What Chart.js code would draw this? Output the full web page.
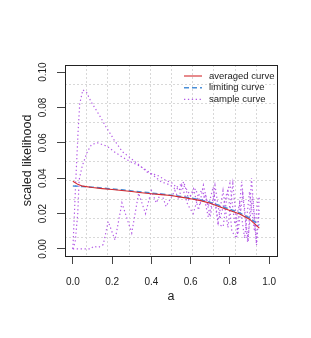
<!DOCTYPE html>
<html>
<head>
<meta charset="utf-8">
<script src="https://cdn.jsdelivr.net/npm/chart.js@4/dist/chart.umd.min.js"></script>
<style>
  html, body { margin: 0; padding: 0; background: #fff; }
  canvas { display: block; }
</style>
</head>
<body>
<canvas id="likChart" width="311" height="338"></canvas>
<script>
// tick labels
const xTicks = [0, 0.2, 0.4, 0.6, 0.8, 1.0];
const yTicks = [0, 0.02, 0.04, 0.06, 0.08, 0.10];

// averaged curve
const avgX = [0, 0.025, 0.05, 0.1, 0.15, 0.2, 0.25, 0.3, 0.35, 0.4, 0.45, 0.5, 0.55, 0.6, 0.65, 0.7, 0.75, 0.8, 0.85, 0.9, 0.95];
const avgY = [0.0383, 0.0365, 0.0355, 0.0347, 0.0341, 0.0336, 0.0330, 0.0325, 0.0318, 0.0312, 0.0307, 0.0302, 0.0293, 0.0284, 0.0273, 0.0258, 0.0237, 0.0217, 0.0198, 0.0168, 0.0118];

// limiting curve
const limX = [0, 0.05, 0.1, 0.15, 0.2, 0.25, 0.3, 0.35, 0.4, 0.45, 0.5, 0.55, 0.6, 0.65, 0.7, 0.75, 0.8, 0.85, 0.9, 0.95];
const limY = [0.0356, 0.0353, 0.0349, 0.0344, 0.0339, 0.0334, 0.0328, 0.0322, 0.0316, 0.0310, 0.0304, 0.0297, 0.0288, 0.0277, 0.0263, 0.0245, 0.0224, 0.0203, 0.0175, 0.0135];

// sample curves
const s1X = [0, 0.008, 0.015, 0.027, 0.035, 0.051, 0.07, 0.092, 0.134, 0.168, 0.21, 0.252, 0.295, 0.337, 0.385, 0.427, 0.47, 0.51, 0.54, 0.565, 0.59, 0.615, 0.64, 0.665, 0.69, 0.715, 0.74, 0.765, 0.79, 0.815, 0.84, 0.865, 0.89, 0.915, 0.935, 0.95];
const s1Y = [0, 0.020, 0.039, 0.067, 0.082, 0.090, 0.0885, 0.0834, 0.0758, 0.0692, 0.0617, 0.055, 0.0513, 0.0475, 0.0428, 0.0419, 0.039, 0.037, 0.033, 0.038, 0.028, 0.034, 0.022, 0.036, 0.024, 0.035, 0.015, 0.033, 0.012, 0.037, 0.008, 0.031, 0.004, 0.030, 0.003, 0.022];

const s2X = [0, 0.012, 0.025, 0.032, 0.048, 0.074, 0.095, 0.125, 0.176, 0.21, 0.252, 0.303, 0.346, 0.4, 0.45, 0.495, 0.52, 0.546, 0.571, 0.6, 0.625, 0.65, 0.675, 0.7, 0.724, 0.75, 0.775, 0.8, 0.825, 0.85, 0.875, 0.9, 0.925, 0.944];
const s2Y = [0, 0.004, 0.020, 0.039, 0.047, 0.055, 0.059, 0.060, 0.058, 0.055, 0.0519, 0.0488, 0.0466, 0.0425, 0.038, 0.0362, 0.034, 0.0362, 0.0353, 0.030, 0.034, 0.026, 0.031, 0.018, 0.036, 0.017, 0.028, 0.037, 0.014, 0.026, 0.006, 0.0324, 0.010, 0.0287];

const s3X = [0, 0.09, 0.105, 0.13, 0.155, 0.18, 0.215, 0.25, 0.30, 0.335, 0.37, 0.40, 0.425, 0.45, 0.475, 0.52, 0.54, 0.555, 0.585, 0.613, 0.64, 0.66, 0.69, 0.72, 0.74, 0.766, 0.79, 0.81, 0.834, 0.86, 0.893, 0.91, 0.936, 0.95];
const s3Y = [0, 0, 0.0015, 0.0008, 0.0025, 0.0155, 0.005, 0.026, 0.009, 0.0315, 0.020, 0.033, 0.026, 0.032, 0.024, 0.033, 0.028, 0.036, 0.025, 0.020, 0.030, 0.034, 0.018, 0.030, 0.014, 0.0126, 0.034, 0.010, 0.006, 0.038, 0.004, 0.040, 0.0023, 0.030];

const pts = (xs, ys) => xs.map((x, i) => ({ x: x, y: ys[i] }));

const RED = "#d42a2e";
const BLUE = "#4a8fd8";
const PURPLE = "#b35ae6";

const sampleStyle = {
  borderColor: PURPLE,
  borderWidth: 1.2,
  borderDash: [1.3, 2.6],
  pointRadius: 0,
  tension: 0
};

// R-like frame: dashed grid, box, rotated y labels, titles, legend
const rFrame = {
  id: "rFrame",
  beforeDatasetsDraw(chart) {
    const { ctx, chartArea: a } = chart;
    ctx.save();
    ctx.strokeStyle = "#d8d8d8";
    ctx.lineWidth = 1;
    ctx.setLineDash([2, 2]);
    for (let i = 1; i < 10; i++) {
      const gx = Math.round(a.left + (a.right - a.left) * i / 10) + 0.5;
      const gy = Math.round(a.top + (a.bottom - a.top) * i / 10) + 0.5;
      ctx.beginPath(); ctx.moveTo(gx, a.top); ctx.lineTo(gx, a.bottom); ctx.stroke();
      ctx.beginPath(); ctx.moveTo(a.left, gy); ctx.lineTo(a.right, gy); ctx.stroke();
    }
    ctx.restore();
  },
  afterDraw(chart) {
    const { ctx, chartArea: a } = chart;
    const ys = chart.scales.y;
    ctx.save();
    ctx.strokeStyle = "#222";
    ctx.lineWidth = 1;
    ctx.strokeRect(Math.round(a.left) + 0.5, Math.round(a.top) + 0.5,
      Math.round(a.right - a.left), Math.round(a.bottom - a.top));

    ctx.fillStyle = "#222";
    ctx.font = "10px 'Liberation Sans', Arial, sans-serif";
    ctx.textAlign = "center";
    ctx.textBaseline = "middle";
    yTicks.forEach(v => {
      ctx.save();
      ctx.translate(43, ys.getPixelForValue(v));
      ctx.rotate(-Math.PI / 2);
      ctx.fillText(v.toFixed(2), 0, 0);
      ctx.restore();
    });

    ctx.font = "12.5px 'Liberation Sans', Arial, sans-serif";
    ctx.fillText("a", (a.left + a.right) / 2, 297);
    ctx.save();
    ctx.translate(28, (a.top + a.bottom) / 2);
    ctx.rotate(-Math.PI / 2);
    ctx.fillText("scaled likelihood", 0, 0);
    ctx.restore();

    // legend
    ctx.font = "9.5px 'Liberation Sans', Arial, sans-serif";
    ctx.textAlign = "left";
    chart.data.datasets.slice(0, 3).forEach((ds, i) => {
      const ly = 76 + i * 11.7;
      ctx.strokeStyle = ds.borderColor;
      ctx.lineWidth = ds.borderWidth;
      ctx.setLineDash(ds.borderDash || []);
      ctx.beginPath(); ctx.moveTo(184, ly); ctx.lineTo(202, ly); ctx.stroke();
      ctx.fillStyle = "#222";
      ctx.fillText(ds.label, 209, ly);
    });
    ctx.restore();
  }
};

new Chart(document.getElementById("likChart"), {
  type: "line",
  data: {
    datasets: [
      { label: "averaged curve", data: pts(avgX, avgY), borderColor: RED, borderWidth: 1.1, pointRadius: 0, tension: 0 },
      { label: "limiting curve", data: pts(limX, limY), borderColor: BLUE, borderWidth: 1.5, borderDash: [5, 3], pointRadius: 0, tension: 0 },
      { label: "sample curve", data: pts(s1X, s1Y), ...sampleStyle },
      { label: "sample curve", data: pts(s2X, s2Y), ...sampleStyle },
      { label: "sample curve", data: pts(s3X, s3Y), ...sampleStyle }
    ]
  },
  options: {
    responsive: false,
    animation: false,
    layout: { padding: { top: 65, right: 34, left: 0, bottom: 0 } },
    plugins: { legend: { display: false }, tooltip: { enabled: false } },
    scales: {
      x: {
        type: "linear",
        min: -0.04,
        max: 1.04,
        afterBuildTicks: s => { s.ticks = xTicks.map(v => ({ value: v })); },
        afterFit: s => { s.height = 82; },
        grid: { drawOnChartArea: false, drawTicks: true, tickLength: 8, color: "#444" },
        border: { display: false },
        ticks: {
          color: "#222",
          padding: 12,
          maxRotation: 0,
          font: { family: "'Liberation Sans', Arial, sans-serif", size: 10 },
          callback: v => v.toFixed(1)
        }
      },
      y: {
        type: "linear",
        min: -0.004,
        max: 0.104,
        afterBuildTicks: s => { s.ticks = yTicks.map(v => ({ value: v })); },
        afterFit: s => { s.width = 65; },
        grid: { drawOnChartArea: false, drawTicks: true, tickLength: 8, color: "#444" },
        border: { display: false },
        ticks: { display: false }
      }
    }
  },
  plugins: [rFrame]
});
</script>
</body>
</html>
